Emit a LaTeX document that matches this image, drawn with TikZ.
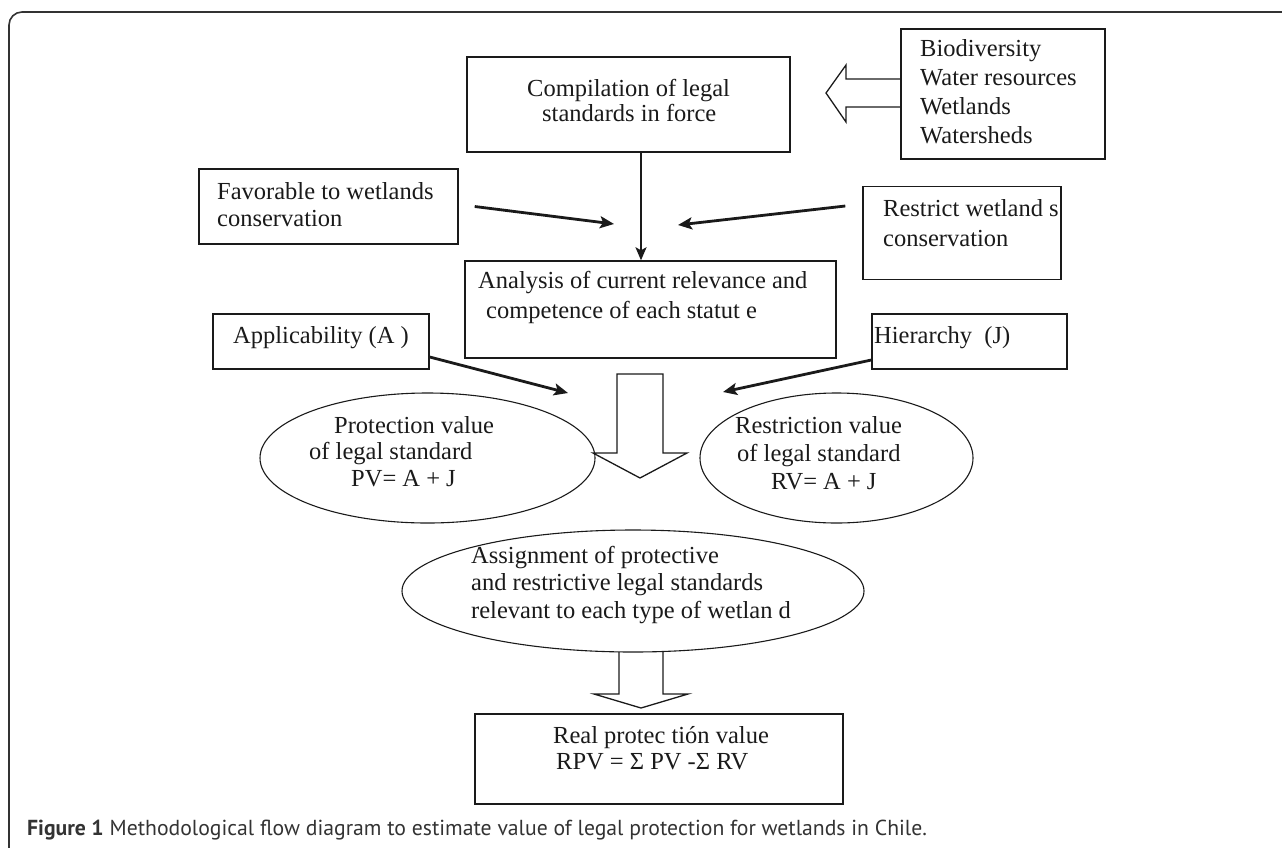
\documentclass[tikz,border=0pt]{standalone}
\usepackage{fontspec}
\setmainfont{Liberation Serif}
\newfontfamily\capfont{PT Sans}
\usetikzlibrary{arrows.meta,calc,shapes.geometric}
\definecolor{ink}{HTML}{1A1A1A}
\definecolor{framec}{HTML}{333333}
\begin{document}
\begin{tikzpicture}[x=1pt,y=-1pt,
  box/.style={draw=ink,line width=1.4pt,inner sep=0pt},
  ell/.style={draw=ink,line width=1.1pt,ellipse,inner sep=0pt},
  t/.style={inner sep=0pt,anchor=west,text height=17pt,text depth=5pt,
            font=\fontsize{24.5}{28}\selectfont,text=ink},
  arr/.style={draw=ink,line width=2.8pt,-{Stealth[length=14pt,width=12pt,inset=3pt]}},
  vline/.style={draw=ink,line width=2.2pt,-{Stealth[length=13pt,width=11pt,inset=3pt]}},
  hollow/.style={draw=ink,line width=1.3pt,line join=miter}]
\useasboundingbox (0,0) rectangle (1282,847);
% frame
\draw[framec,line width=1.6pt,rounded corners=13pt] (9,880) -- (9,12) -- (1300,12);
% boxes
\node[box,minimum width=323pt,minimum height=95pt] (comp) at (628.5,104.5) {};
\node[box,minimum width=204pt,minimum height=130pt] (bio) at (1003,94) {};
\node[box,minimum width=259pt,minimum height=75pt] (fav) at (328.5,206.5) {};
\node[box,minimum width=198pt,minimum height=93pt] (restr) at (962,233) {};
\node[box,minimum width=371pt,minimum height=97pt] (anal) at (650.5,309.5) {};
\node[box,minimum width=216pt,minimum height=55pt] (appl) at (321,341.5) {};
\node[box,minimum width=195pt,minimum height=55pt] (hier) at (969.5,341.5) {};
\node[ell,minimum width=335pt,minimum height=130pt] (prot) at (427.5,458) {};
\node[ell,minimum width=273pt,minimum height=130pt] (rest) at (836.5,458) {};
\node[ell,minimum width=462pt,minimum height=122pt] (assign) at (633,591) {};
\node[box,minimum width=368pt,minimum height=90pt] (rpv) at (659,759) {};
% texts
\node[t] (c1) at (527,90) {Compilation of legal};
\node[t] (c2) at (542,115) {standards in force};
\node[t] (b1) at (920,50) {Biodiversity};
\node[t] (b2) at (920,79) {Water resources};
\node[t] (b3) at (920,108) {Wetlands};
\node[t] (b4) at (920,137) {Watersheds};
\node[t] (f1) at (217,193) {Favorable to wetlands};
\node[t] (f2) at (217,220) {conservation};
\node[t] (r1) at (883,210) {Restrict wetland s};
\node[t] (r2) at (883,240) {conservation};
\node[t] (a1) at (478,282) {Analysis of current relevance and};
\node[t] (a2) at (486,312) {competence of each statut e};
\node[t] (ap) at (233,337) {Applicability (A )};
\node[t] (hi) at (874,337) {Hierarchy\ \ (J)};
\node[t] (p1) at (334,427) {Protection value};
\node[t] (p2) at (309,453) {of legal standard};
\node[t] (p3) at (351,480) {PV= A + J};
\node[t] (q1) at (735,427) {Restriction value};
\node[t] (q2) at (737,455) {of legal standard};
\node[t] (q3) at (771,483) {RV= A + J};
\node[t] (s1) at (471,557) {Assignment of protective};
\node[t] (s2) at (471,584) {and restrictive legal standards};
\node[t] (s3) at (471,612) {relevant to each type of wetlan d};
\node[t] (v1) at (553,737) {Real protec tión value};
\node[t] (v2) at (556,763) {RPV = Σ PV -Σ RV};
% connector end points
\coordinate (favE) at (614,224);
\coordinate (restrE) at (678,225);
\coordinate (applE) at (568,393);
\coordinate (hierE) at (723,392);
% thin arrows
\draw[vline] ([xshift=12.5pt]comp.south) -- ([xshift=12.5pt]comp.south |- anal.north);
\draw[arr] ([xshift=16pt]fav.east) -- (favE);
\draw[arr] ([xshift=-17pt,yshift=27pt]restr.west) -- (restrE);
\draw[arr] ([yshift=-15.5pt]appl.east) -- (applE);
\draw[arr] ([yshift=-18.5pt]hier.west) -- (hierE);
% hollow arrows
\draw[hollow] (bio.west |- 0,79) -- (846,79) -- (846,65) -- (826,93) -- (846,122) -- (846,107) -- (bio.west |- 0,107);
\draw[hollow,fill=white] (617,453) -- (617,374) -- (663,374) -- (663,453) -- (687,453) -- (640,478) -- (593,453) -- cycle;
\draw[hollow] (619,652) -- (619,694) -- (594,694) -- (641,708) -- (688,694) -- (663,694) -- (663,652);
% caption
\node[inner sep=0pt,anchor=base west,text=framec,font=\capfont\fontsize{21.7}{25}\selectfont] (cap) at (27,835)
  {\textbf{Figure 1} Methodological flow diagram to estimate value of legal protection for wetlands in Chile.};
\end{tikzpicture}
\end{document}
